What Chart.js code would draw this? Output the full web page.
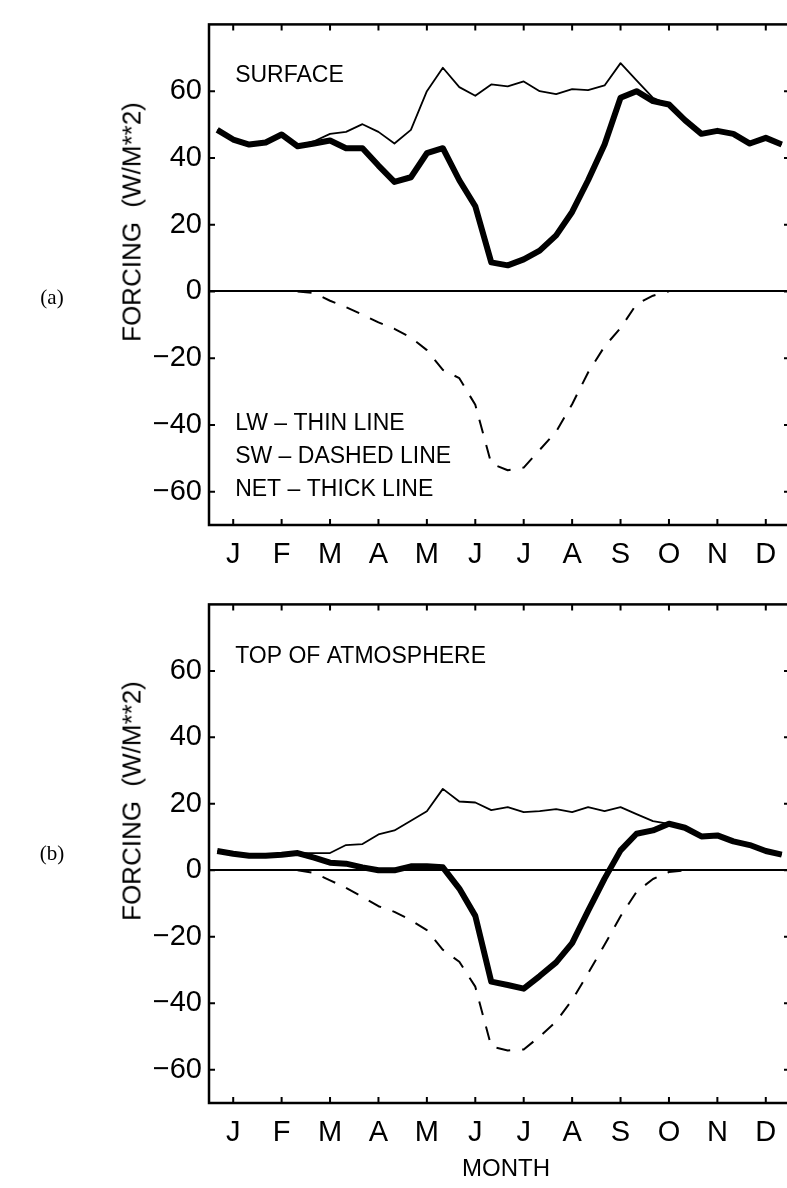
<!DOCTYPE html>
<html>
<head>
<meta charset="utf-8">
<script src="https://cdn.jsdelivr.net/npm/chart.js@4/dist/chart.umd.min.js"></script>
<style>
  html, body { margin: 0; padding: 0; background: #fff; overflow: hidden; }
  body { width: 787px; height: 1188px; position: relative; }
  .panel { position: absolute; left: 0; width: 800px; height: 580px; }
  .lbl { position: absolute; color: #000; white-space: nowrap; }
  .ab { font-family: "Liberation Serif", "DejaVu Serif", serif; font-size: 21px; transform: translate(-50%, -50%); }
  .ytitle { font-family: "Liberation Sans", Arial, sans-serif; font-size: 26px;
            transform: translate(-50%, -50%) rotate(-90deg); }
  .month { font-family: "Liberation Sans", Arial, sans-serif; font-size: 24px; transform: translate(-50%, -50%); }
</style>
</head>
<body>
<div class="panel" style="top:0"><canvas id="chart-a" width="800" height="580"></canvas></div>
<div class="panel" style="top:580px"><canvas id="chart-b" width="800" height="580"></canvas></div>

<div class="lbl ab" style="left:52px; top:297px">(a)</div>
<div class="lbl ab" style="left:52px; top:853px">(b)</div>
<div class="lbl ytitle" style="left:132px; top:222px">FORCING&nbsp;&nbsp;(W/M**2)</div>
<div class="lbl ytitle" style="left:132px; top:801px">FORCING&nbsp;&nbsp;(W/M**2)</div>
<div class="lbl month" style="left:506px; top:1168px">MONTH</div>

<script>
// Сезонний хід радіаційного форсингу хмар: поверхня (a) і верх атмосфери (b).
// Три точки на місяць (декади), вісь X у місяцях.

const months = ["J", "F", "M", "A", "M", "J", "J", "A", "S", "O", "N", "D"];
const yTicks = [-60, -40, -20, 0, 20, 40, 60];
const dekads = [0.67, 1.00, 1.33, 1.67, 2.00, 2.33, 2.67, 3.00, 3.33, 3.67, 4.00, 4.33,
                4.67, 5.00, 5.33, 5.67, 6.00, 6.33, 6.67, 7.00, 7.33, 7.67, 8.00, 8.33,
                8.67, 9.00, 9.33, 9.67, 10.00, 10.33, 10.67, 11.00, 11.33, 11.67, 12.00, 12.33];

// (a) поверхня
const surfNet = [48.4, 45.5, 44, 44.6, 47, 43.5, 44.3, 45.2, 42.9, 42.9, 37.7, 32.8,
                 34.2, 41.4, 42.9, 33.3, 25.5, 8.7, 7.8, 9.6, 12.2, 16.8, 23.8, 33.3,
                 44, 58, 60, 57, 56, 51.3, 47.2, 48.1, 47.2, 44.3, 46, 44];
const surfLw  = [48.4, 45.5, 44, 44.6, 47, 43.5, 45, 47.2, 47.8, 50.1, 47.8, 44.3,
                 48.4, 60, 67, 61.2, 58.6, 62, 61.4, 62.9, 60, 59.1, 60.6, 60.3,
                 61.7, 68.4, 63.2, 58, 56, 51.3, 47.2, 48.1, 47.2, 44.3, 46, 44];
// SW лежить на нульовій лінії взимку — там штрихів не видно, тож null
const surfSw  = [null, null, null, null, null, 0, -0.5, -2.8, -4.7, -7, -9.3, -11.2,
                 -13.8, -17.6, -23.5, -26, -34, -51.6, -53.6, -52.8, -47.5, -42, -33.8, -24.3,
                 -16.5, -11, -3.8, -1.3, 0, null, null, null, null, null, null, null];

// (b) верх атмосфери
const toaNet = [5.8, 5, 4.4, 4.4, 4.7, 5.2, 3.8, 2.3, 2, 0.9, 0, 0,
                1.2, 1.2, 0.9, -5.5, -13.7, -33.5, -34.5, -35.6, -31.8, -27.7, -21.9, -12.2,
                -2.5, 6, 11, 12, 14, 12.8, 10.2, 10.5, 8.7, 7.6, 5.8, 4.7];
const toaLw  = [5.8, 5, 4.4, 4.4, 4.7, 5.2, 5.2, 5.2, 7.6, 7.9, 10.8, 12,
                14.9, 17.8, 24.5, 20.7, 20.4, 18.1, 19, 17.5, 17.8, 18.4, 17.5, 19,
                17.8, 19, 16.9, 14.8, 14, 12.8, 10.2, 10.5, 8.7, 7.6, 5.8, 4.7];
const toaSw  = [null, null, null, null, null, 0, -0.8, -3, -5.3, -8, -10.8, -12.5,
                -15, -18, -23.9, -27.5, -35, -53, -54.2, -53.9, -50, -45.5, -39, -31,
                -22.4, -13.8, -6.5, -2.6, -0.5, 0, null, null, null, null, null, null];

const surfNotes = [
  { text: "SURFACE", x: 1.04, y: 64.5 },
  { text: "LW \u2013 THIN LINE", x: 1.04, y: -39.5 },
  { text: "SW \u2013 DASHED LINE", x: 1.04, y: -49.5 },
  { text: "NET \u2013 THICK LINE", x: 1.04, y: -59.5 },
];
const toaNotes = [
  { text: "TOP OF ATMOSPHERE", x: 1.04, y: 64.4 },
];

const TICK_FONT = { family: '"Liberation Sans", Arial, sans-serif', size: 29 };

const pts = (vals) => vals.map((v, i) => ({ x: dekads[i], y: v }));

// Рамка з внутрішніми рисками на всіх чотирьох сторонах + підписи всередині поля.
function framePlugin(notes) {
  return {
    id: "frame",
    afterDraw(chart) {
      const { ctx, chartArea: a, scales: { x, y } } = chart;
      ctx.save();
      ctx.strokeStyle = "#000";
      ctx.lineWidth = 2.5;
      ctx.strokeRect(a.left, a.top, a.right - a.left, a.bottom - a.top);
      ctx.lineWidth = 2;
      ctx.beginPath();
      for (const t of x.ticks) {
        const px = x.getPixelForValue(t.value);
        ctx.moveTo(px, a.bottom); ctx.lineTo(px, a.bottom - 6);
        ctx.moveTo(px, a.top);    ctx.lineTo(px, a.top + 6);
      }
      for (const t of y.ticks) {
        const py = y.getPixelForValue(t.value);
        ctx.moveTo(a.left, py);  ctx.lineTo(a.left + 6, py);
        ctx.moveTo(a.right, py); ctx.lineTo(a.right - 6, py);
      }
      ctx.stroke();

      ctx.fillStyle = "#000";
      ctx.font = '23px "Liberation Sans", Arial, sans-serif';
      ctx.textAlign = "left";
      ctx.textBaseline = "middle";
      for (const n of notes) {
        ctx.fillText(n.text, x.getPixelForValue(n.x), y.getPixelForValue(n.y));
      }
      ctx.restore();
    },
  };
}

function makePanel(id, net, lw, sw, notes, xAxisH) {
  const base = { pointRadius: 0, tension: 0, fill: false, borderColor: "#000",
                 borderJoinStyle: "round" };
  return new Chart(document.getElementById(id), {
    type: "line",
    data: {
      datasets: [
        { ...base, label: "NET", data: pts(net), borderWidth: 6 },
        { ...base, label: "LW",  data: pts(lw),  borderWidth: 1.8 },
        { ...base, label: "SW",  data: pts(sw),  borderWidth: 2, borderDash: [14, 12] },
      ],
    },
    options: {
      responsive: false,
      animation: false,
      devicePixelRatio: 1,
      layout: { padding: { top: 10, right: 10, left: 0, bottom: 0 } },
      plugins: { legend: { display: false }, tooltip: { enabled: false } },
      scales: {
        x: {
          type: "linear", min: 0.5, max: 12.5,
          afterBuildTicks: (s) => { s.ticks = months.map((m, i) => ({ value: i + 1 })); },
          afterFit: (s) => { s.height = xAxisH; },
          ticks: { color: "#000", font: TICK_FONT, padding: 13, maxRotation: 0, autoSkip: false,
                   callback: (v) => months[Math.round(v) - 1] },
          grid: { display: false, drawTicks: false },
          border: { display: false },
        },
        y: {
          type: "linear", min: -70, max: 80,
          afterBuildTicks: (s) => { s.ticks = yTicks.map((v) => ({ value: v })); },
          afterFit: (s) => { s.width = 209; },
          ticks: { color: "#000", font: TICK_FONT, padding: 7,
                   callback: (v) => (v < 0 ? "\u2212" + Math.abs(v) : String(v)) },
          grid: { drawTicks: false, lineWidth: 2,
                  color: (c) => (c.tick && c.tick.value === 0 ? "#000" : "rgba(0,0,0,0)") },
          border: { display: false },
        },
      },
    },
    plugins: [framePlugin(notes)],
  });
}

makePanel("chart-a", surfNet, surfLw, surfSw, surfNotes, 55);
makePanel("chart-b", toaNet, toaLw, toaSw, toaNotes, 57);
</script>
</body>
</html>
